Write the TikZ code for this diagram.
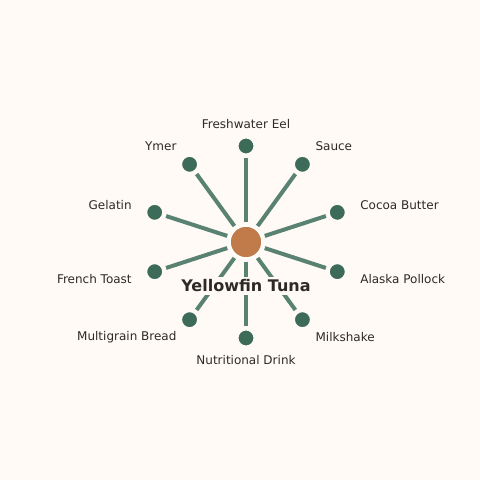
\documentclass[tikz,border=0pt]{standalone}
\usepackage{fontspec}
\setmainfont{DejaVu Sans}
\usetikzlibrary{calc}
\definecolor{sfondo}{HTML}{FFFAF5}
\definecolor{nodo}{HTML}{3D6B5A}
\definecolor{raggio}{HTML}{5A8272}
\definecolor{arancio}{HTML}{C17A4A}
\definecolor{testo}{HTML}{2D2A26}
\tikzset{
  centro/.style={circle, fill=arancio, draw=white, line width=1.5pt, minimum size=32pt, inner sep=0pt},
  foglia/.style={circle, fill=nodo, draw=sfondo, line width=2pt, minimum size=17pt, inner sep=0pt},
  spoke/.style={draw=raggio, line width=4pt, shorten <=3pt, shorten >=2.5pt},
  etichetta/.style={text=testo, font=\fontsize{12}{14}\selectfont, inner sep=0pt},
  titolo/.style={text=testo, font=\fontsize{16}{19}\selectfont\bfseries, fill=sfondo, inner sep=3pt}
}
\begin{document}
\begin{tikzpicture}[x=1pt,y=1pt]
% Sfondo
\fill[sfondo] (0,0) rectangle (480,480);

% Nodo centrale
\node[centro] (tuna) at (246,238) {};

% Nodi esterni ed etichette
\foreach \ang/\nome/\testo/\anc/\rl in {
  90/eel/Freshwater Eel/center/118,
  54/sauce/Sauce/west/118,
  18/cocoa/Cocoa Butter/west/120,
  -18/pollock/Alaska Pollock/west/120,
  -54/milk/Milkshake/west/118,
  -90/drink/Nutritional Drink/center/118,
  -126/bread/Multigrain Bread/east/118,
  -162/toast/French Toast/east/120,
  162/gelatin/Gelatin/east/120,
  126/ymer/Ymer/east/118}{
  \node[foglia] (\nome) at ($(tuna)+(\ang:96)$) {};
  \node[etichetta, anchor=\anc] (lab-\nome) at ($(tuna)+(\ang:\rl)$) {\testo};
  \draw[spoke] (tuna) -- (\nome);
}

% Titolo
\node[titolo] (nome-tuna) at (246,194) {Yellowfin Tuna};
\end{tikzpicture}
\end{document}
